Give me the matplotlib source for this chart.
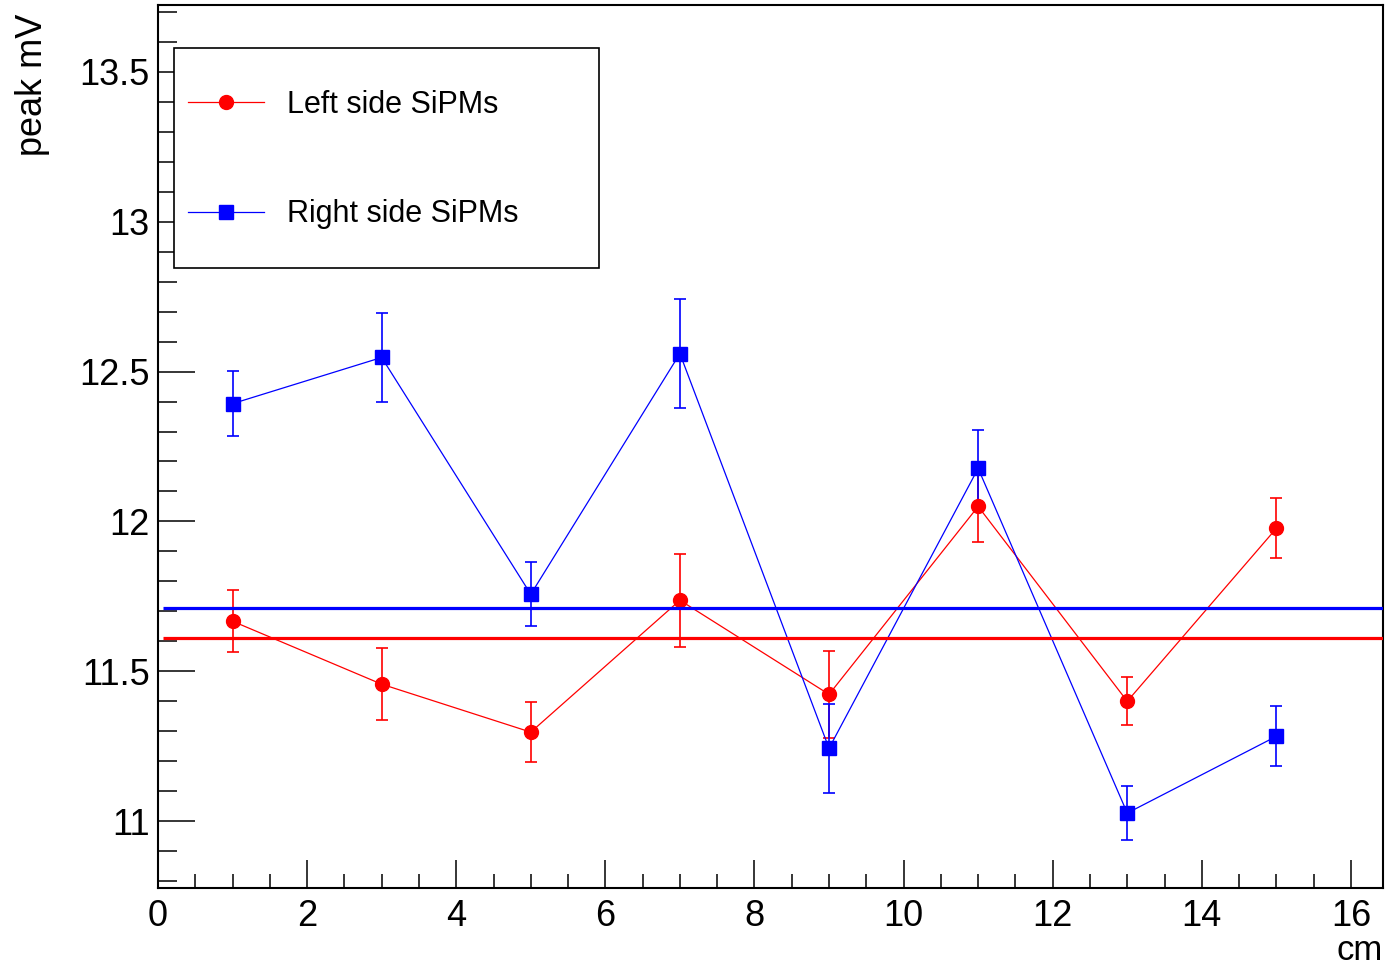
import numpy as np
import matplotlib
matplotlib.use("Agg")
import matplotlib.pyplot as plt
from matplotlib.ticker import MultipleLocator, FuncFormatter
from matplotlib.lines import Line2D
from matplotlib.patches import Rectangle

plt.rcParams['font.family'] = ['Liberation Sans', 'DejaVu Sans']

# --------------------------
# data
pos_cm = [1, 3, 5, 7, 9, 11, 13, 15]

left_peak = [11.667, 11.457, 11.297, 11.737, 11.423, 12.05, 11.40, 11.977]
left_err = [0.103, 0.12, 0.10, 0.155, 0.145, 0.12, 0.08, 0.10]

right_peak = [12.393, 12.547, 11.757, 12.56, 11.243, 12.177, 11.027, 11.283]
right_err = [0.108, 0.15, 0.107, 0.183, 0.148, 0.127, 0.09, 0.10]

left_mean = 11.61
right_mean = 11.71
fit_range = [0.07, 16.43]

labels = ["Left side SiPMs", "Right side SiPMs"]

# --------------------------
fig = plt.figure(figsize=(13.89, 9.66), dpi=100)
ax = fig.add_axes([158 / 1389, 1 - 888 / 966, 1225 / 1389, 883 / 966])

ax.errorbar(pos_cm, left_peak, yerr=left_err, color='red', marker='o',
            markersize=10, lw=0.9, capsize=4.5, capthick=1.2, elinewidth=1.2,
            zorder=3)
ax.errorbar(pos_cm, right_peak, yerr=right_err, color='blue', marker='s',
            markersize=10.5, lw=0.9, capsize=4.5, capthick=1.2, elinewidth=1.2,
            zorder=3)

ax.hlines(right_mean, fit_range[0], fit_range[1], color='blue', lw=2.3, zorder=4)
ax.hlines(left_mean, fit_range[0], fit_range[1], color='red', lw=2.3, zorder=4)

ax.set_xlim(0, 16.43)
ax.set_ylim(10.777, 13.723)

ax.xaxis.set_major_locator(MultipleLocator(2))
ax.xaxis.set_minor_locator(MultipleLocator(0.5))
ax.yaxis.set_major_locator(MultipleLocator(0.5))
ax.yaxis.set_minor_locator(MultipleLocator(0.1))
ax.yaxis.set_major_formatter(FuncFormatter(lambda v, p: f"{v:g}"))

ax.tick_params(axis='y', which='major', direction='in', length=26.6, width=1.1,
               labelsize=26, pad=6)
ax.tick_params(axis='y', which='minor', direction='in', length=14, width=1.1)
ax.tick_params(axis='x', which='major', direction='in', length=20, width=1.1,
               labelsize=26, pad=8)
ax.tick_params(axis='x', which='minor', direction='in', length=10, width=1.1)

for s in ax.spines.values():
    s.set_linewidth(1.5)

ax.set_xlabel("cm", fontsize=25, loc='right', labelpad=0)
ax.set_ylabel("peak mV", fontsize=26, loc='top')
ax.yaxis.set_label_coords(-0.088, 0.99)

# legend box (ROOT style: plain frame, no error bars in the entries)
box = Rectangle((0.0131, 0.702), 0.347, 0.249, transform=ax.transAxes,
                facecolor='white', edgecolor='black', lw=1.2, zorder=5)
ax.add_patch(box)
handles = [Line2D([], [], color='red', marker='o', markersize=10, lw=0.9),
           Line2D([], [], color='blue', marker='s', markersize=10.5, lw=0.9)]
leg = ax.legend(handles, labels, loc='upper left',
                bbox_to_anchor=(0.0245, 0.904), fontsize=22, frameon=False,
                borderaxespad=0, borderpad=0, labelspacing=2.6,
                handlelength=2.5, handletextpad=0.75)
leg.set_zorder(6)

fig.savefig("out.png", dpi=100)
